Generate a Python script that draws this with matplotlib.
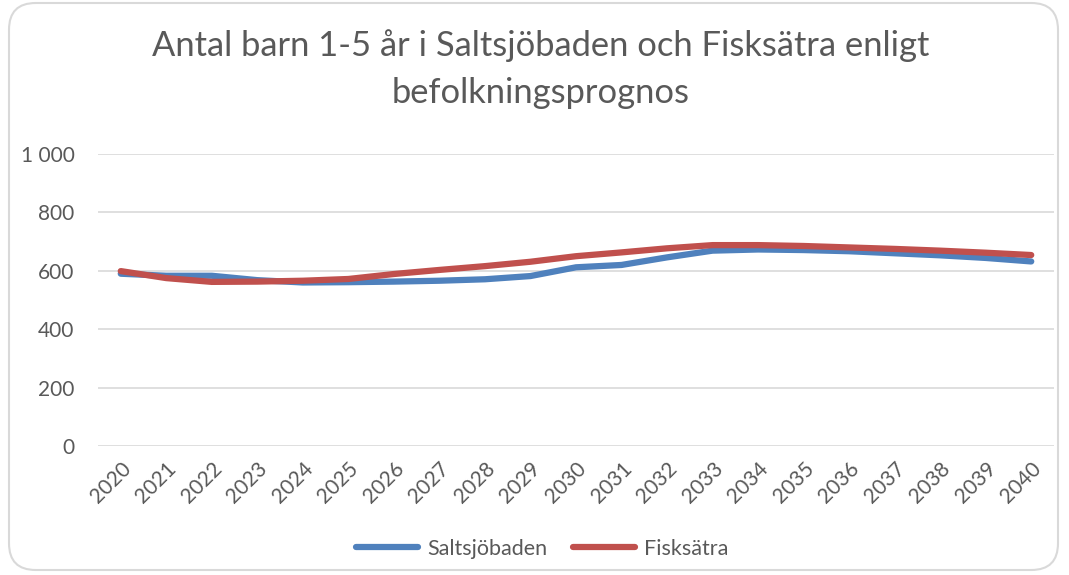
import matplotlib
matplotlib.use("Agg")
import matplotlib.pyplot as plt
from matplotlib.patches import FancyBboxPatch

years = [str(y) for y in range(2020, 2041)]
saltsjobaden = [590, 583, 583, 568, 560, 561, 563, 566, 571, 582, 612, 620, 646, 669, 673, 671, 667, 660, 653, 644, 632]
fisksatra = [599, 575, 562, 563, 566, 572, 589, 603, 616, 631, 650, 663, 677, 688, 688, 685, 680, 675, 669, 662, 654]
series_names = ["Saltsjöbaden", "Fisksätra"]
colors = ["#4F81BD", "#C0504D"]
yticks = [0, 200, 400, 600, 800, 1000]
ytick_labels = ["0", "200", "400", "600", "800", "1 000"]
title = "Antal barn 1-5 år i Saltsjöbaden och Fisksätra enligt\nbefolkningsprognos"

plt.rcParams['font.family'] = ['Lato', 'DejaVu Sans']
text_color = "#595959"

fig = plt.figure(figsize=(10.69, 5.75), dpi=100)
W, H = 1069, 575

# rounded frame
frame = FancyBboxPatch((9 / W, 5 / H), (1058 - 9) / W, (572 - 5) / H,
                       boxstyle="round,pad=0,rounding_size=0.025",
                       transform=fig.transFigure, facecolor="white",
                       edgecolor="#D9D9D9", linewidth=1.5, mutation_aspect=W / H,
                       zorder=-1)
fig.patches.append(frame)

ax = fig.add_axes([98 / W, 1 - 446 / H, (1054 - 98) / W, (446 - 154) / H])
ax.set_facecolor("none")
x = list(range(len(years)))
for vals, name, c in zip([saltsjobaden, fisksatra], series_names, colors):
    ax.plot(x, vals, color=c, linewidth=4.5, solid_capstyle="round",
            solid_joinstyle="round", label=name)

ax.set_xlim(-0.5, len(years) - 0.5)
ax.set_ylim(0, 1000)
ax.set_yticks(yticks)
ax.set_yticklabels(ytick_labels)
ax.set_xticks(x)
ax.set_xticklabels(years, rotation=45, ha="right", va="top", rotation_mode="anchor")
ax.grid(axis="y", color="#D9D9D9", linewidth=1.2)
ax.set_axisbelow(True)
for s in ax.spines.values():
    s.set_visible(False)
ax.tick_params(axis="both", length=0, colors=text_color, labelsize=15)
ax.tick_params(axis="y", pad=17)
ax.tick_params(axis="x", pad=9)

fig.text(541 / W, 1 - 69 / H, title, ha="center", va="center", fontsize=24.8,
         color=text_color, linespacing=1.6)

leg = fig.legend(loc="center", bbox_to_anchor=(542 / W, 1 - 549 / H), ncol=2,
                 frameon=False, fontsize=15.5, handlelength=2.9, columnspacing=1.2,
                 handletextpad=0.4)
for t in leg.get_texts():
    t.set_color(text_color)

fig.savefig("out.png", dpi=100)
